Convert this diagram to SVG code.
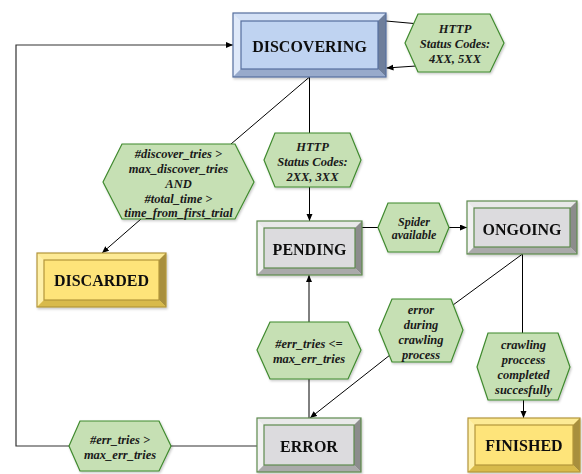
<svg xmlns="http://www.w3.org/2000/svg" width="582" height="474" viewBox="0 0 582 474">
  <defs>
    <marker id="arrow" markerUnits="userSpaceOnUse" markerWidth="8" markerHeight="7" refX="7" refY="3" orient="auto">
      <path d="M0,0 L7,3 L0,6 z" fill="#000"/>
    </marker>
    <filter id="shadow" x="-10%" y="-10%" width="130%" height="130%">
      <feDropShadow dx="1" dy="1.5" stdDeviation="0.8" flood-color="#000" flood-opacity="0.22"/>
    </filter>
  </defs>
  <style>
    .conn { fill: none; stroke: #000; stroke-width: 1; }
    .loop { fill: none; stroke: #333; stroke-width: 1.2; }
    .hex { fill: #c6e0b4; stroke: #3f8a2e; stroke-width: 1.2; filter: url(#shadow); }
    text { font-family: 'Liberation Serif', 'DejaVu Serif', serif; font-weight: bold; }
    .hex-text { font-style: italic; font-size: 12.5px; fill: #1a1a1a; text-anchor: middle; }
    .box-text { font-size: 16px; fill: #111; text-anchor: middle; }
    .edge { stroke-width: 1.2; }
    /* blue state */
    .blue .face { fill: #bfd3f1; }
    .blue .top { fill: #d4e1f6; }
    .blue .left { fill: #dfe9f9; }
    .blue .right { fill: #6e7e9b; }
    .blue .bottom { fill: #98aacb; }
    .blue .edge { fill: none; stroke: #566f9e; }
    /* grey state */
    .grey .face { fill: #dcdbde; }
    .grey .top { fill: #e9e9e9; }
    .grey .left { fill: #f2f2f2; }
    .grey .right { fill: #8c8c8c; }
    .grey .bottom { fill: #aaaaaa; }
    .grey .edge { fill: none; stroke: #5e8a4e; }
    /* yellow state */
    .yellow .face { fill: #fee47a; }
    .yellow .top { fill: #fdea95; }
    .yellow .left { fill: #fef0aa; }
    .yellow .right { fill: #a88f3c; }
    .yellow .bottom { fill: #d8ba4c; }
    .yellow .edge { fill: none; stroke: #b3963a; }
  </style>

  <!-- connectors -->
  <g id="connectors">
    <path class="loop" d="M257,446 H16 V45 H233" marker-end="url(#arrow)"/>
    <path class="conn" d="M386,21 L414,23.5"/>
    <path class="conn" d="M416,66 L386.5,68" marker-end="url(#arrow)"/>
    <path class="conn" d="M309.5,77 V134"/>
    <path class="conn" d="M309.5,187 V221" marker-end="url(#arrow)"/>
    <path class="conn" d="M309.5,77 L231,144"/>
    <path class="conn" d="M141,219 L102,253" marker-end="url(#arrow)"/>
    <path class="conn" d="M362,227.5 H379"/>
    <path class="conn" d="M449,227.5 H467" marker-end="url(#arrow)"/>
    <path class="conn" d="M522.5,254 V334"/>
    <path class="conn" d="M523.5,400 V418" marker-end="url(#arrow)"/>
    <path class="conn" d="M522.5,254 L453,305"/>
    <path class="conn" d="M390,355 L310,418" marker-end="url(#arrow)"/>
    <path class="conn" d="M309,418 V379"/>
    <path class="conn" d="M309,322 V275" marker-end="url(#arrow)"/>
  </g>

  <!-- state boxes -->
  <g id="discovering" class="blue" filter="url(#shadow)">
    <rect class="face" x="233" y="13" width="153" height="64"/>
    <polygon class="top" points="233,13 386,13 378,21 241,21"/>
    <polygon class="left" points="233,13 241,21 241,69 233,77"/>
    <polygon class="right" points="386,13 386,77 378,69 378,21"/>
    <polygon class="bottom" points="233,77 241,69 378,69 386,77"/>
    <rect class="edge" x="241" y="21" width="137" height="48" stroke-width="0.8"/>
    <rect class="edge" x="233" y="13" width="153" height="64"/>
    <text class="box-text" x="309.5" y="52">DISCOVERING</text>
  </g>

  <g id="discarded" class="yellow" filter="url(#shadow)">
    <rect class="face" x="37" y="253" width="129" height="54"/>
    <polygon class="top" points="37,253 166,253 159,260 44,260"/>
    <polygon class="left" points="37,253 44,260 44,300 37,307"/>
    <polygon class="right" points="166,253 166,307 159,300 159,260"/>
    <polygon class="bottom" points="37,307 44,300 159,300 166,307"/>
    <rect class="edge" x="44" y="260" width="115" height="40" stroke-width="0.8"/>
    <rect class="edge" x="37" y="253" width="129" height="54"/>
    <text class="box-text" x="101.5" y="286">DISCARDED</text>
  </g>

  <g id="pending" class="grey" filter="url(#shadow)">
    <rect class="face" x="257" y="221" width="105" height="54"/>
    <polygon class="top" points="257,221 362,221 355,228 264,228"/>
    <polygon class="left" points="257,221 264,228 264,268 257,275"/>
    <polygon class="right" points="362,221 362,275 355,268 355,228"/>
    <polygon class="bottom" points="257,275 264,268 355,268 362,275"/>
    <rect class="edge" x="264" y="228" width="91" height="40" stroke-width="0.8"/>
    <rect class="edge" x="257" y="221" width="105" height="54"/>
    <text class="box-text" x="309.5" y="254.5">PENDING</text>
  </g>

  <g id="ongoing" class="grey" filter="url(#shadow)">
    <rect class="face" x="467" y="201" width="110" height="53"/>
    <polygon class="top" points="467,201 577,201 570,208 474,208"/>
    <polygon class="left" points="467,201 474,208 474,247 467,254"/>
    <polygon class="right" points="577,201 577,254 570,247 570,208"/>
    <polygon class="bottom" points="467,254 474,247 570,247 577,254"/>
    <rect class="edge" x="474" y="208" width="96" height="39" stroke-width="0.8"/>
    <rect class="edge" x="467" y="201" width="110" height="53"/>
    <text class="box-text" x="522" y="234.5">ONGOING</text>
  </g>

  <g id="error" class="grey" filter="url(#shadow)">
    <rect class="face" x="257" y="418" width="104" height="54"/>
    <polygon class="top" points="257,418 361,418 354,425 264,425"/>
    <polygon class="left" points="257,418 264,425 264,465 257,472"/>
    <polygon class="right" points="361,418 361,472 354,465 354,425"/>
    <polygon class="bottom" points="257,472 264,465 354,465 361,472"/>
    <rect class="edge" x="264" y="425" width="90" height="40" stroke-width="0.8"/>
    <rect class="edge" x="257" y="418" width="104" height="54"/>
    <text class="box-text" x="309" y="452">ERROR</text>
  </g>

  <g id="finished" class="yellow" filter="url(#shadow)">
    <rect class="face" x="468" y="418" width="112" height="54"/>
    <polygon class="top" points="468,418 580,418 573,425 475,425"/>
    <polygon class="left" points="468,418 475,425 475,465 468,472"/>
    <polygon class="right" points="580,418 580,472 573,465 573,425"/>
    <polygon class="bottom" points="468,472 475,465 573,465 580,472"/>
    <rect class="edge" x="475" y="425" width="98" height="40" stroke-width="0.8"/>
    <rect class="edge" x="468" y="418" width="112" height="54"/>
    <text class="box-text" x="524" y="450.5">FINISHED</text>
  </g>

  <!-- condition hexagons -->
  <g id="cond-http-4xx-5xx">
    <polygon class="hex" points="405,43 418,14 490,14 504,43 490,72 418,72"/>
    <text class="hex-text" x="455" y="32.5">HTTP</text>
    <text class="hex-text" x="455" y="47.5">Status Codes:</text>
    <text class="hex-text" x="455" y="63">4XX, 5XX</text>
  </g>

  <g id="cond-http-2xx-3xx">
    <polygon class="hex" points="264,160 275,133 350,133 361,160 350,187 275,187"/>
    <text class="hex-text" x="312.5" y="151">HTTP</text>
    <text class="hex-text" x="312.5" y="166">Status Codes:</text>
    <text class="hex-text" x="312.5" y="180.5">2XX, 3XX</text>
  </g>

  <g id="cond-discover-timeout">
    <polygon class="hex" points="103,182 122,144 235,144 254,182 235,219 122,219"/>
    <text class="hex-text" x="178.5" y="157.5">#discover_tries &gt;</text>
    <text class="hex-text" x="178.5" y="172.5">max_discover_tries</text>
    <text class="hex-text" x="178.5" y="187.5">AND</text>
    <text class="hex-text" x="178.5" y="202.5">#total_time &gt;</text>
    <text class="hex-text" x="178.5" y="217">time_from_first_trial</text>
  </g>

  <g id="cond-spider-available">
    <polygon class="hex" points="378,227.5 388,203 439,203 449,227.5 439,252 388,252"/>
    <text class="hex-text" x="414" y="225.5" style="font-size:12px">Spider</text>
    <text class="hex-text" x="414" y="239" style="font-size:12px">available</text>
  </g>

  <g id="cond-crawl-error">
    <polygon class="hex" points="379,330 392,299 451,299 463,330 451,362 392,362"/>
    <text class="hex-text" x="421" y="313.5">error</text>
    <text class="hex-text" x="421" y="328.5">during</text>
    <text class="hex-text" x="421" y="344">crawling</text>
    <text class="hex-text" x="421" y="359">process</text>
  </g>

  <g id="cond-retry">
    <polygon class="hex" points="257,350 270,322 348,322 361,350 348,379 270,379"/>
    <text class="hex-text" x="309" y="347.5">#err_tries &lt;=</text>
    <text class="hex-text" x="309" y="363">max_err_tries</text>
  </g>

  <g id="cond-crawl-done">
    <polygon class="hex" points="477,367 488,333 558,333 570,367 558,400 488,400"/>
    <text class="hex-text" x="523.5" y="349">crawling</text>
    <text class="hex-text" x="523.5" y="364">proccess</text>
    <text class="hex-text" x="523.5" y="379">completed</text>
    <text class="hex-text" x="523.5" y="394">succesfully</text>
  </g>

  <g id="cond-retries-exceeded">
    <polygon class="hex" points="69,446 80,421 159,421 171,446 159,471 80,471"/>
    <text class="hex-text" x="120" y="444">#err_tries &gt;</text>
    <text class="hex-text" x="120" y="458.5">max_err_tries</text>
  </g>
</svg>
